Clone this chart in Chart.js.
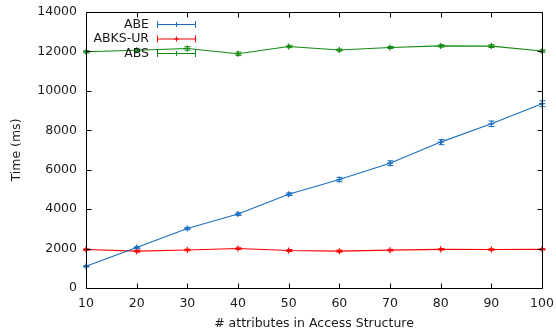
<!DOCTYPE html>
<html>
<head>
<meta charset="utf-8">
<script src="https://cdn.jsdelivr.net/npm/chart.js@4/dist/chart.umd.min.js"></script>
<style>
  html, body { margin: 0; padding: 0; background: #fff; }
  #wrap { width: 556px; height: 333px; }
</style>
</head>
<body>
<div id="wrap"><canvas id="c" width="556" height="333"></canvas></div>
<script>
// Number of attributes in the access structure
const attributes = [10, 20, 30, 40, 50, 60, 70, 80, 90, 100];

// Mean running time (ms) per scheme
const abeTime    = [1100, 2050, 3020, 3750, 4760, 5500, 6330, 7400, 8330, 9350];
const abksurTime = [1950, 1870, 1930, 2000, 1900, 1870, 1920, 1960, 1950, 1960];
const absTime    = [11980, 12060, 12150, 11880, 12250, 12070, 12200, 12280, 12270, 12020];

// Error bar half-widths (ms)
const abeErr    = [40, 60, 60, 70, 70, 110, 120, 130, 140, 150];
const abksurErr = [40, 50, 40, 40, 50, 50, 40, 40, 40, 30];
const absErr    = [60, 60, 90, 90, 60, 50, 50, 60, 70, 60];

// Axis ticks
const xTicks = [10, 20, 30, 40, 50, 60, 70, 80, 90, 100];
const yTicks = [0, 2000, 4000, 6000, 8000, 10000, 12000, 14000];

const seriesNames = ['ABE', 'ABKS-UR', 'ABS'];
const seriesColors = ['#1a6fc0', '#ff0000', '#138a13'];
const seriesValues = [abeTime, abksurTime, absTime];
const seriesErrors = [abeErr, abksurErr, absErr];

const FONT = 'DejaVu Sans';
const FONT_SIZE = 12.5;
const TEXT_COLOR = '#1a1a1a';

// Vertical error bars with short caps
const errorBars = {
  id: 'errorBars',
  afterDatasetsDraw(chart) {
    const { ctx, scales: { x, y } } = chart;
    ctx.save();
    chart.data.datasets.forEach((ds, i) => {
      const errs = seriesErrors[i];
      ctx.strokeStyle = ds.borderColor;
      ctx.lineWidth = 1;
      ds.data.forEach((p, j) => {
        const px = Math.round(x.getPixelForValue(p.x)) + 0.5;
        const y1 = y.getPixelForValue(p.y - errs[j]);
        const y2 = y.getPixelForValue(p.y + errs[j]);
        ctx.beginPath();
        ctx.moveTo(px, y1); ctx.lineTo(px, y2);
        ctx.moveTo(px - 3, y1); ctx.lineTo(px + 3, y1);
        ctx.moveTo(px - 3, y2); ctx.lineTo(px + 3, y2);
        ctx.stroke();
      });
    });
    ctx.restore();
  }
};

// Frame around the plot with inward ticks on all four sides
const frame = {
  id: 'frame',
  afterDraw(chart) {
    const { ctx, chartArea: a, scales: { x, y } } = chart;
    ctx.save();
    ctx.strokeStyle = '#000';
    ctx.lineWidth = 1;
    const L = Math.round(a.left) + 0.5, R = Math.round(a.right) + 0.5;
    const T = Math.round(a.top) + 0.5, B = Math.round(a.bottom) + 0.5;
    ctx.beginPath();
    ctx.rect(L, T, R - L, B - T);
    xTicks.forEach(v => {
      const px = Math.round(x.getPixelForValue(v)) + 0.5;
      ctx.moveTo(px, B); ctx.lineTo(px, B - 5);
      ctx.moveTo(px, T); ctx.lineTo(px, T + 5);
    });
    yTicks.forEach(v => {
      const py = Math.round(y.getPixelForValue(v)) + 0.5;
      ctx.moveTo(L, py); ctx.lineTo(L + 5, py);
      ctx.moveTo(R, py); ctx.lineTo(R - 5, py);
    });
    ctx.stroke();
    ctx.restore();
  }
};

// Key in the upper left: right-aligned names followed by a sample line with error bar caps
const key = {
  id: 'key',
  afterDatasetsDraw(chart) {
    const { ctx, chartArea: a } = chart;
    ctx.save();
    ctx.font = FONT_SIZE + 'px "' + FONT + '"';
    ctx.textAlign = 'right';
    ctx.textBaseline = 'middle';
    const textRight = a.left + 63;
    const x1 = a.left + 71.5, x2 = a.left + 109.5, xm = (x1 + x2) / 2;
    seriesNames.forEach((name, i) => {
      const yy = a.top + 12.5 + i * 14.5;
      ctx.fillStyle = TEXT_COLOR;
      ctx.fillText(name, textRight, yy);
      ctx.strokeStyle = seriesColors[i];
      ctx.lineWidth = 1;
      ctx.beginPath();
      ctx.moveTo(x1, yy); ctx.lineTo(x2, yy);
      ctx.moveTo(x1, yy - 3.5); ctx.lineTo(x1, yy + 3.5);
      ctx.moveTo(x2, yy - 3.5); ctx.lineTo(x2, yy + 3.5);
      ctx.moveTo(xm, yy - 2.5); ctx.lineTo(xm, yy + 2.5);
      ctx.moveTo(xm - 2.5, yy); ctx.lineTo(xm + 2.5, yy);
      ctx.stroke();
    });
    ctx.restore();
  }
};

const datasets = seriesNames.map((name, i) => ({
  label: name,
  data: attributes.map((a, j) => ({ x: a, y: seriesValues[i][j] })),
  borderColor: seriesColors[i],
  backgroundColor: seriesColors[i],
  borderWidth: 1.1,
  pointStyle: 'cross',
  pointRadius: 3,
  pointBorderWidth: 1.2,
  tension: 0,
  clip: false
}));

const plainNumber = v => String(v);

new Chart(document.getElementById('c'), {
  type: 'line',
  data: { datasets },
  plugins: [errorBars, key, frame],
  options: {
    responsive: false,
    animation: false,
    devicePixelRatio: 1,
    layout: { padding: { left: 0, right: 14, top: 12, bottom: 0 } },
    plugins: { legend: { display: false }, tooltip: { enabled: false } },
    scales: {
      x: {
        type: 'linear',
        min: 10, max: 100,
        afterFit(s) { s.height = 45; s.paddingLeft = 0; s.paddingRight = 0; },
        afterBuildTicks(s) { s.ticks = xTicks.map(v => ({ value: v })); },
        grid: { display: false, drawTicks: false },
        border: { display: false },
        ticks: { color: TEXT_COLOR, padding: 8, font: { family: FONT, size: FONT_SIZE }, maxRotation: 0, callback: plainNumber },
        title: {
          display: true,
          text: '# attributes in Access Structure',
          color: TEXT_COLOR,
          font: { family: FONT, size: FONT_SIZE },
          padding: { top: 0, bottom: 1.5 }
        }
      },
      y: {
        type: 'linear',
        min: 0, max: 14000,
        afterFit(s) { s.width = 86; s.paddingTop = 0; s.paddingBottom = 0; },
        afterBuildTicks(s) { s.ticks = yTicks.map(v => ({ value: v })); },
        grid: { display: false, drawTicks: false },
        border: { display: false },
        ticks: { color: TEXT_COLOR, padding: 9, font: { family: FONT, size: FONT_SIZE }, callback: plainNumber },
        title: {
          display: true,
          text: 'Time (ms)',
          color: TEXT_COLOR,
          font: { family: FONT, size: FONT_SIZE },
          padding: { top: 9, bottom: 0 }
        }
      }
    }
  }
});
</script>
</body>
</html>
